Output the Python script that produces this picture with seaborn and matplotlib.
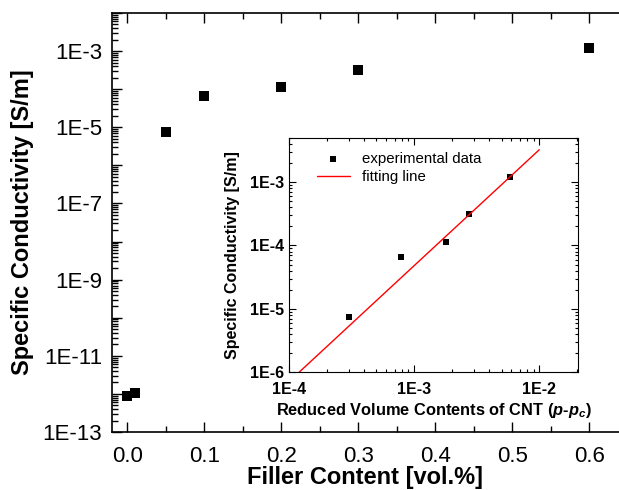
import numpy as np
import pandas as pd
import seaborn as sns
import matplotlib.pyplot as plt
from matplotlib.ticker import LogLocator, FuncFormatter, MultipleLocator, NullFormatter

# main plot data
filler = [0.0, 0.01, 0.05, 0.1, 0.2, 0.3, 0.6]
sigma = [8.9e-13, 1.07e-12, 7.5e-6, 6.6e-5, 1.15e-4, 3.15e-4, 1.2e-3]

# inset data
p_red = [3.0e-4, 7.9e-4, 1.79e-3, 2.76e-3, 5.86e-3]
sigma_in = [7.5e-6, 6.6e-5, 1.15e-4, 3.15e-4, 1.2e-3]
fit_x = [1.0e-4, 1.0e-2]
fit_y = [7.05e-7, 3.26e-3]

sns.set_style("ticks")
plt.rcParams['font.family'] = ['Liberation Sans', 'DejaVu Sans']
plt.rcParams['text.color'] = 'black'
plt.rcParams['axes.labelcolor'] = 'black'
plt.rcParams['xtick.color'] = 'black'
plt.rcParams['ytick.color'] = 'black'
plt.rcParams['axes.edgecolor'] = 'black'
plt.rcParams['mathtext.fontset'] = 'custom'
plt.rcParams['mathtext.rm'] = 'Liberation Sans:bold'
plt.rcParams['mathtext.bf'] = 'Liberation Sans:bold'
plt.rcParams['mathtext.it'] = 'Liberation Sans:italic:bold'
plt.rcParams['mathtext.bfit'] = 'Liberation Sans:italic:bold'

df_main = pd.DataFrame({"x": filler, "y": sigma})
df_in = pd.DataFrame({"x": p_red, "y": sigma_in})
df_fit = pd.DataFrame({"x": fit_x, "y": fit_y})


def sci(v, pos):
    return "1E%d" % int(round(np.log10(v)))


def sci_odd(v, pos):
    e = int(round(np.log10(v)))
    return "1E%d" % e if e % 2 != 0 else ""


fig = plt.figure(figsize=(6.19, 4.9), dpi=100)
ax = fig.add_axes([112 / 619, 58 / 490, 516 / 619, 419 / 490])

sns.scatterplot(data=df_main, x="x", y="y", ax=ax, marker="s", s=55,
                color="black", edgecolor="black", linewidth=0, legend=False)
ax.set_yscale("log")
ax.set_xlim(-0.02, 0.65)
ax.set_ylim(1e-13, 1e-2)
ax.xaxis.set_major_locator(MultipleLocator(0.1))
ax.xaxis.set_minor_locator(MultipleLocator(0.05))
ax.xaxis.set_major_formatter(FuncFormatter(lambda v, p: "%.1f" % v))
ax.yaxis.set_major_locator(LogLocator(base=10, subs=(1.0,), numticks=30))
ax.yaxis.set_minor_locator(LogLocator(base=10, subs=np.arange(2, 10), numticks=30))
ax.yaxis.set_major_formatter(FuncFormatter(sci_odd))
ax.yaxis.set_minor_formatter(NullFormatter())
ax.tick_params(which="both", direction="in", top=True, right=False, labelsize=16, width=1)
ax.tick_params(which="major", length=7)
ax.tick_params(which="minor", length=4)
ax.tick_params(axis="x", pad=10)
ax.tick_params(axis="y", pad=7)
for s in ax.spines.values():
    s.set_linewidth(1.2)
ax.spines["right"].set_visible(False)
ax.set_xlabel("Filler Content [vol.%]", fontsize=17, fontweight="bold")
ax.set_ylabel("Specific Conductivity [S/m]", fontsize=17, fontweight="bold")
ax.xaxis.set_label_coords((365 - 112) / 516, (432 - 466) / 419)
ax.yaxis.set_label_coords((11 - 112) / 516, (432 - 222) / 419)
ax.yaxis.label.set_verticalalignment("top")

# inset
ins = fig.add_axes([289 / 619, 118 / 490, 289 / 619, 234 / 490])
sns.lineplot(data=df_fit, x="x", y="y", ax=ins, color="red", linewidth=1,
             label="fitting line")
sns.scatterplot(data=df_in, x="x", y="y", ax=ins, marker="s", s=14,
                color="black", edgecolor="black", linewidth=0,
                label="experimental data")
ins.set_xscale("log")
ins.set_yscale("log")
ins.set_xlim(1e-4, 2.04e-2)
ins.set_ylim(1e-6, 5e-3)
for a in (ins.xaxis, ins.yaxis):
    a.set_major_locator(LogLocator(base=10, subs=(1.0,), numticks=20))
    a.set_minor_locator(LogLocator(base=10, subs=np.arange(2, 10), numticks=20))
    a.set_major_formatter(FuncFormatter(sci))
    a.set_minor_formatter(NullFormatter())
ins.tick_params(which="both", direction="in", top=True, right=True, labelsize=11.5, width=0.8)
ins.tick_params(which="major", length=5)
ins.tick_params(which="minor", length=2.5)
ins.tick_params(axis="x", pad=7)
for lab in ins.get_xticklabels() + ins.get_yticklabels():
    lab.set_fontweight("bold")
ins.set_xlabel(r"Reduced Volume Contents of CNT ($\mathbfit{p}$-$\mathbfit{p}_\mathbfit{c}$)",
               fontsize=11.8, fontweight="bold", labelpad=3)
ins.set_ylabel("Specific Conductivity [S/m]", fontsize=11.5, fontweight="bold", labelpad=7)
handles, labels = ins.get_legend_handles_labels()
ins.legend(handles[::-1], labels[::-1], loc="upper left", frameon=False, fontsize=10.8,
           bbox_to_anchor=(0.05, 1.0), handlelength=2.2, labelspacing=0.3)

fig.savefig("out.png", dpi=100)
